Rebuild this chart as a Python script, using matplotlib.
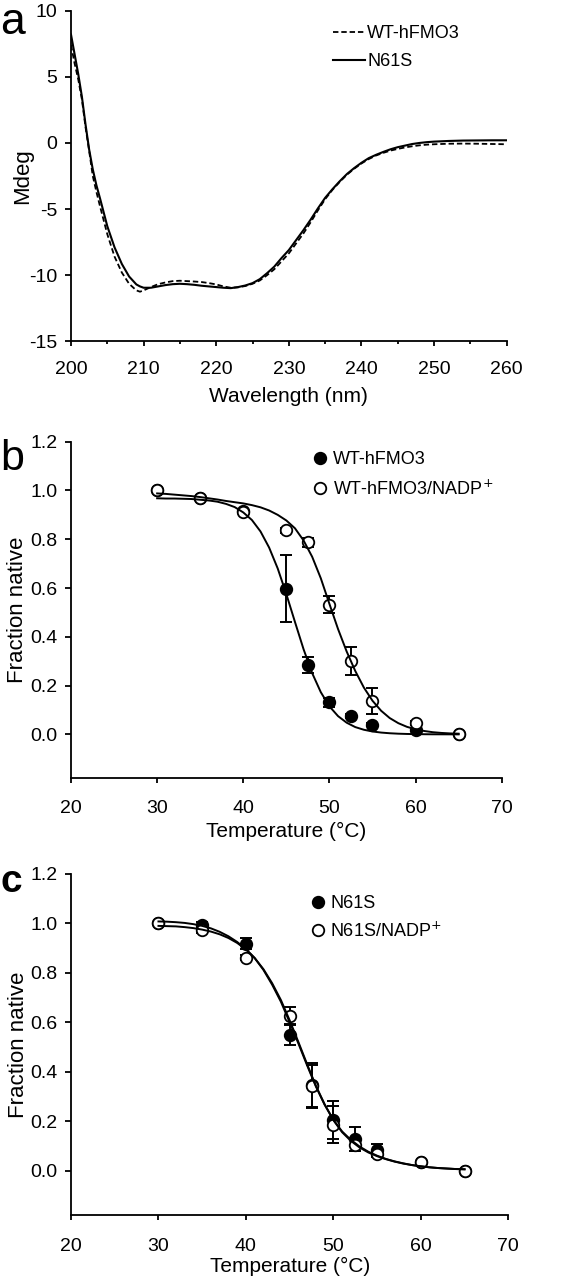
import matplotlib
matplotlib.use("Agg")
import matplotlib.pyplot as plt
from matplotlib.ticker import MultipleLocator, FormatStrFormatter

plt.rcParams['font.family'] = ['Liberation Sans', 'DejaVu Sans']
plt.rcParams['axes.unicode_minus'] = False

# ---------------- Panel a: CD spectra ----------------
wavelength = [200, 200.5, 201, 201.5, 202, 202.5, 203, 203.5, 204, 205, 206, 207, 208, 209, 209.5,
              210, 211, 212, 213, 214, 215, 216, 217, 218, 219, 220, 221, 222, 223, 224, 225,
              226, 227, 228, 229, 230, 231, 232, 233, 234, 235, 236, 237, 238, 239, 240, 241,
              242, 243, 244, 245, 246, 247, 248, 249, 250, 252, 254, 256, 258, 260]
cd_n61s = [8.2, 6.7, 5.2, 3.5, 1.4, -0.5, -2.0, -3.2, -4.2, -6.3, -7.9, -9.15, -10.1, -10.7, -10.85,
           -10.95, -10.95, -10.85, -10.75, -10.68, -10.65, -10.68, -10.73, -10.8, -10.85, -10.9, -10.95,
           -10.98, -10.9, -10.78, -10.6, -10.3, -9.85, -9.35, -8.7, -8.1, -7.35, -6.6, -5.8, -4.95,
           -4.15, -3.5, -2.9, -2.35, -1.9, -1.5, -1.15, -0.9, -0.68, -0.48, -0.32, -0.2, -0.08, 0.0,
           0.06, 0.1, 0.15, 0.18, 0.19, 0.2, 0.2]
cd_wt = [7.4, 6.0, 4.8, 3.3, 1.2, -0.6, -2.5, -3.7, -4.8, -6.9, -8.6, -9.8, -10.65, -11.15, -11.25,
         -11.15, -10.9, -10.68, -10.55, -10.45, -10.42, -10.45, -10.48, -10.52, -10.6, -10.7, -10.85,
         -10.95, -10.92, -10.82, -10.65, -10.4, -10.0, -9.55, -8.95, -8.35, -7.6, -6.85, -6.0, -5.1,
         -4.25, -3.55, -2.95, -2.4, -1.95, -1.55, -1.22, -0.95, -0.75, -0.58, -0.45, -0.34, -0.25,
         -0.18, -0.13, -0.1, -0.06, -0.05, -0.06, -0.08, -0.1]

# ---------------- Panels b, c: thermal denaturation ----------------
temps = [30, 35, 40, 45, 47.5, 50, 52.5, 55, 60, 65]

wt_native = [1.0, 0.97, 0.915, 0.597, 0.284, 0.131, 0.076, 0.039, 0.016, 0.0]
wt_err = [0, 0, 0, 0.137, 0.032, 0.02, 0.008, 0.006, 0.004, 0]
wt_nadp_native = [1.0, 0.968, 0.913, 0.836, 0.788, 0.532, 0.301, 0.137, 0.048, 0.0]
wt_nadp_err = [0, 0.005, 0.005, 0.01, 0.018, 0.036, 0.057, 0.053, 0.008, 0]

n61s_native = [1.0, 0.993, 0.918, 0.548, 0.345, 0.205, 0.128, 0.083, 0.034, 0.0]
n61s_err = [0, 0.012, 0.022, 0.04, 0.09, 0.078, 0.05, 0.025, 0, 0]
n61s_nadp_native = [1.0, 0.972, 0.862, 0.627, 0.343, 0.185, 0.105, 0.067, 0.034, 0.0]
n61s_nadp_err = [0, 0.01, 0.01, 0.034, 0.085, 0.075, 0.025, 0.012, 0, 0]

# fitted curves
fit_temps = list(range(30, 66))
fit_wt = [0.968, 0.967, 0.967, 0.966, 0.965, 0.962, 0.959, 0.954, 0.945, 0.932, 0.910, 0.879,
          0.832, 0.766, 0.680, 0.575, 0.461, 0.349, 0.251, 0.173, 0.115, 0.075, 0.048, 0.030,
          0.019, 0.012, 0.0075, 0.0047, 0.0029, 0.0018, 0.0011, 0.0007, 0.0004, 0.0003, 0.0002, 0.0001]
fit_wt_nadp = [0.988, 0.986, 0.983, 0.980, 0.977, 0.973, 0.968, 0.963, 0.957, 0.952, 0.947, 0.940,
               0.931, 0.918, 0.900, 0.877, 0.845, 0.795, 0.728, 0.640, 0.535, 0.432, 0.340, 0.260,
               0.192, 0.138, 0.097, 0.067, 0.046, 0.031, 0.021, 0.014, 0.009, 0.006, 0.004, 0.003]
fit_n61s = [1.008, 1.007, 1.005, 1.002, 0.997, 0.990, 0.980, 0.966, 0.948, 0.925, 0.896, 0.860,
            0.812, 0.752, 0.683, 0.600, 0.514, 0.425, 0.340, 0.266, 0.205, 0.158, 0.124, 0.097,
            0.076, 0.060, 0.047, 0.037, 0.029, 0.022, 0.017, 0.013, 0.010, 0.008, 0.006, 0.005]
fit_n61s_nadp = [0.990, 0.989, 0.988, 0.985, 0.981, 0.975, 0.967, 0.956, 0.941, 0.921, 0.895, 0.860,
                 0.815, 0.758, 0.690, 0.608, 0.520, 0.430, 0.343, 0.268, 0.204, 0.155, 0.120, 0.093,
                 0.073, 0.058, 0.046, 0.036, 0.028, 0.022, 0.017, 0.013, 0.010, 0.008, 0.006, 0.005]

W, H = 566, 1280
fig = plt.figure(figsize=(W / 100, H / 100), dpi=100)


def box(left, right, top, bottom):
    return [left / W, 1 - bottom / H, (right - left) / W, (bottom - top) / H]


TICK_FS = 14
XLABEL_FS = 15
YLABEL_FS = 16
LEG_FS = 13
SPINE_LW = 1.3


def style_axes(ax, xpad):
    for s in ['top', 'right']:
        ax.spines[s].set_visible(False)
    for s in ['left', 'bottom']:
        ax.spines[s].set_linewidth(SPINE_LW)
    ax.tick_params(axis='both', which='major', direction='out', width=SPINE_LW,
                   labelsize=TICK_FS, colors='black')
    ax.tick_params(axis='x', which='major', length=3.8, pad=xpad)
    ax.tick_params(axis='y', which='major', length=4.3, pad=5.5)


# ---- panel a ----
A_L, A_R, A_T, A_B = 71, 506.7, 10.7, 341.3
axa = fig.add_axes(box(A_L, A_R, A_T, A_B))
axa.plot(wavelength, cd_wt, color='black', lw=1.3, ls=(0, (3.0, 1.6)), label='WT-hFMO3')
axa.plot(wavelength, cd_n61s, color='black', lw=1.5, ls='-', label='N61S')
axa.set_xlim(200, 260)
axa.set_ylim(-15, 10)
axa.xaxis.set_major_locator(MultipleLocator(10))
axa.xaxis.set_minor_locator(MultipleLocator(5))
axa.yaxis.set_major_locator(MultipleLocator(5))
style_axes(axa, 10.5)
axa.tick_params(axis='x', which='minor', direction='out', length=2.4, width=SPINE_LW)
axa.set_xlabel('Wavelength (nm)', fontsize=XLABEL_FS)
axa.set_ylabel('Mdeg', fontsize=YLABEL_FS)
axa.legend(loc='upper left', bbox_to_anchor=((333 - A_L) / (A_R - A_L), (A_B - 25.5) / (A_B - A_T)),
           frameon=False, fontsize=LEG_FS, handlelength=1.77, handletextpad=0.12,
           labelspacing=0.6, borderaxespad=0, borderpad=0)


def melt_panel(ax, fil, fil_err, opn, opn_err, fit_f, fit_o, lab_f, lab_o, leg_anchor, leg_pad,
               xpad, spacing):
    ax.errorbar(temps, fil, yerr=fil_err, fmt='none', ecolor='black', elinewidth=1.4,
                capsize=4.3, capthick=1.4, zorder=2)
    ax.errorbar(temps, opn, yerr=opn_err, fmt='none', ecolor='black', elinewidth=1.4,
                capsize=4.3, capthick=1.4, zorder=2)
    hf, = ax.plot(temps, fil, ls='none', marker='o', ms=8.3, mfc='black', mec='black',
                  mew=1.3, zorder=3, label=lab_f)
    ho, = ax.plot(temps, opn, ls='none', marker='o', ms=8.3, mfc='white', mec='black',
                  mew=1.3, zorder=4, label=lab_o)
    ax.plot(fit_temps, fit_f, color='black', lw=1.4, zorder=5)
    ax.plot(fit_temps, fit_o, color='black', lw=1.4, zorder=5)
    ax.set_xlim(20, 70)
    ax.set_ylim(-0.18, 1.2)
    ax.xaxis.set_major_locator(MultipleLocator(10))
    ax.set_yticks([0.0, 0.2, 0.4, 0.6, 0.8, 1.0, 1.2])
    ax.yaxis.set_major_formatter(FormatStrFormatter('%.1f'))
    style_axes(ax, xpad)
    ax.set_xlabel('Temperature (°C)', fontsize=XLABEL_FS)
    ax.set_ylabel('Fraction native', fontsize=YLABEL_FS)
    ax.legend(handles=[hf, ho], loc='upper left', bbox_to_anchor=leg_anchor, frameon=False,
              fontsize=LEG_FS, handlelength=0.8, handletextpad=leg_pad, labelspacing=spacing,
              borderaxespad=0, borderpad=0)


# ---- panel b ----
B_L, B_R, B_T, B_B = 71, 501.7, 441.7, 778.3
axb = fig.add_axes(box(B_L, B_R, B_T, B_B))
melt_panel(axb, wt_native, wt_err, wt_nadp_native, wt_nadp_err, fit_wt, fit_wt_nadp,
           'WT-hFMO3', 'WT-hFMO3/NADP$^{+}$',
           ((312.8 - B_L) / (B_R - B_L), (B_B - 451) / (B_B - B_T)), 0.34, 12, 0.62)

# ---- panel c ----
C_L, C_R, C_T, C_B = 71, 508.3, 874, 1215
axc = fig.add_axes(box(C_L, C_R, C_T, C_B))
melt_panel(axc, n61s_native, n61s_err, n61s_nadp_native, n61s_nadp_err, fit_n61s, fit_n61s_nadp,
           'N61S', 'N61S/NADP$^{+}$',
           ((311.1 - C_L) / (C_R - C_L), (C_B - 895) / (C_B - C_T)), 0.25, 12.5, 0.5)

# axis label positions
axa.yaxis.set_label_coords((33 - A_L) / (A_R - A_L), 0.5)
axb.yaxis.set_label_coords((28.5 - B_L) / (B_R - B_L), 0.5)
axc.yaxis.set_label_coords((29.5 - C_L) / (C_R - C_L), 0.5)
for ax, base, (L, R, T, B) in [(axa, 402, (A_L, A_R, A_T, A_B)),
                               (axb, 837, (B_L, B_R, B_T, B_B)),
                               (axc, 1271.7, (C_L, C_R, C_T, C_B))]:
    ax.xaxis.label.set_va('baseline')
    ax.xaxis.set_label_coords(0.5, (B - base) / (B - T))

# panel letters
fig.text(0.0, 1 - 34 / H, 'a', fontsize=32, va='baseline', ha='left')
fig.text(0.0, 1 - 470 / H, 'b', fontsize=31, va='baseline', ha='left')
fig.text(0.0, 1 - 891.7 / H, 'c', fontsize=28, va='baseline', ha='left', fontweight='bold')

fig.savefig('out.png', dpi=100)
